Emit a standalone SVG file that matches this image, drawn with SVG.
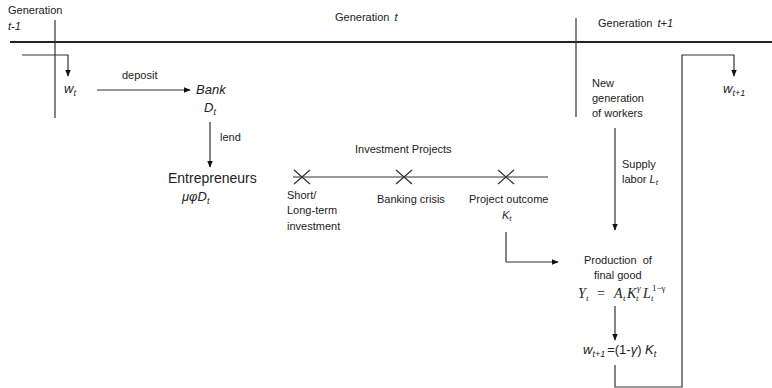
<svg xmlns="http://www.w3.org/2000/svg" width="772" height="388" viewBox="0 0 772 388">
<style>
text{font-family:"Liberation Sans",Arial,sans-serif;font-size:11px;fill:#222}
.i{font-style:italic}
.big{font-size:14px}
.m{font-family:"Liberation Serif","Times New Roman",serif;font-style:italic;font-size:14px}
.s{font-family:"Liberation Serif","Times New Roman",serif;font-style:italic;font-size:9px}
.ln{stroke:#333;stroke-width:1.2;fill:none}
.ar{stroke:#333;stroke-width:1.2;fill:none;marker-end:url(#ah)}
</style>
<defs>
<marker id="ah" viewBox="0 0 10 10" refX="9" refY="5" markerWidth="7" markerHeight="7" orient="auto" markerUnits="userSpaceOnUse">
<path d="M0,1 L10,5 L0,9 Z" fill="#111"/>
</marker>
</defs>
<rect width="772" height="388" fill="#fff"/>
<g id="timeline">
<line x1="10" y1="42" x2="772" y2="42" stroke="#222" stroke-width="2"/>
<line class="ln" x1="55" y1="20" x2="55" y2="118"/>
<line class="ln" x1="576" y1="18" x2="576" y2="117"/>
<text x="8" y="14">Generation</text>
<text x="8" y="30" class="i">t-1</text>
<text x="335" y="21">Generation <tspan class="i" dx="2">t</tspan></text>
<text x="598" y="27">Generation <tspan class="i" dx="2">t+1</tspan></text>
</g>
<g id="connectors">
<path class="ar" d="M22,55 H68 V76"/>
<path class="ar" d="M97,90 H190"/>
<path class="ar" d="M210,122 V167"/>
<path class="ar" d="M506,232 V262 H558"/>
<path class="ar" d="M615,128 V230"/>
<path class="ar" d="M615,306 V340"/>
<path class="ar" d="M615,365 V387 H682 V55 H734 V76"/>
</g>
<g id="wt"><text x="64" y="93" class="i" style="font-size:13px">w<tspan font-size="9" dy="3">t</tspan></text></g>
<g id="deposit-label"><text x="122" y="79">deposit</text></g>
<g id="bank">
<text x="196" y="94" class="i" style="font-size:13px">Bank</text>
<text x="204" y="112" class="i" style="font-size:13px">D<tspan font-size="9" dy="3">t</tspan></text>
</g>
<g id="lend-label"><text x="220" y="141">lend</text></g>
<g id="entrepreneurs">
<text x="168" y="183" class="big">Entrepreneurs</text>
<text x="182" y="201" class="i" style="font-size:13px">μφD<tspan font-size="9" dy="3">t</tspan></text>
</g>
<g id="investment-projects">
<text x="355" y="153">Investment Projects</text>
<line class="ln" x1="293" y1="177" x2="548" y2="177"/>
<path class="ln" d="M294,170 L310,184 M294,184 L310,170"/>
<path class="ln" d="M396,170 L412,184 M396,184 L412,170"/>
<path class="ln" d="M498,170 L514,184 M498,184 L514,170"/>
<text x="287" y="199">Short/</text>
<text x="287" y="214">Long-term</text>
<text x="287" y="230">investment</text>
<text x="377" y="203">Banking crisis</text>
<text x="469" y="203">Project outcome</text>
<text x="502" y="219" class="i">K<tspan font-size="8" dy="2">t</tspan></text>
</g>
<g id="new-generation">
<text x="592" y="87">New</text>
<text x="592" y="102">generation</text>
<text x="592" y="117">of workers</text>
</g>
<g id="supply-label">
<text x="622" y="168">Supply</text>
<text x="622" y="183">labor <tspan class="i">L</tspan><tspan font-size="8" dy="2" class="i">t</tspan></text>
</g>
<g id="production">
<text x="584" y="264">Production <tspan dx="3">of</tspan></text>
<text x="594" y="279">final good</text>
<text x="578" y="298" class="m">Y</text>
<text x="586" y="301" class="s">t</text>
<text x="597" y="298" class="m" style="font-style:normal">=</text>
<text x="614" y="298" class="m">A</text>
<text x="623" y="301" class="s">t</text>
<text x="627" y="298" class="m">K</text>
<text x="636" y="301" class="s">t</text>
<text x="637" y="291" class="s">γ</text>
<text x="643" y="298" class="m">L</text>
<text x="651" y="301" class="s">t</text>
<text x="652" y="291" class="s" style="font-style:normal">1−γ</text>
</g>
<g id="wage">
<text x="583" y="354" style="font-size:13px"><tspan class="i">w</tspan><tspan font-size="9" dy="3" class="i">t+1</tspan><tspan dy="-3" dx="2">=(1-</tspan><tspan class="i">γ</tspan>) <tspan class="i">K</tspan><tspan font-size="9" dy="3" class="i">t</tspan></text>
</g>
<g id="wt1"><text x="723" y="93" class="i" style="font-size:13px">w<tspan font-size="9" dy="3">t+1</tspan></text></g>
</svg>
